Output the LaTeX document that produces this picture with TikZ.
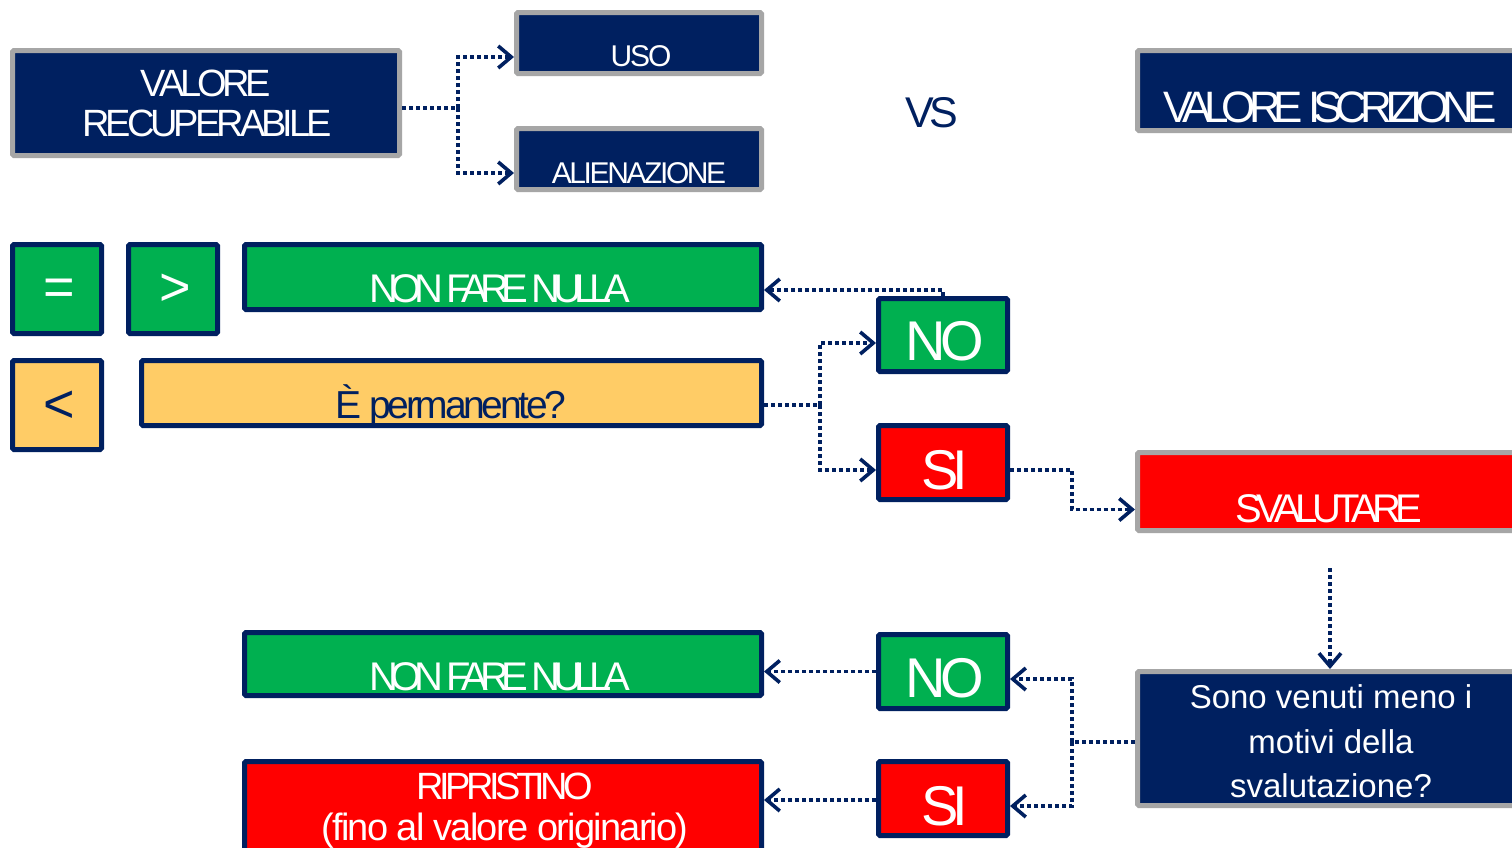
\documentclass[tikz,border=0pt]{standalone}
\usepackage{fontspec}
\setmainfont{Liberation Sans}
\usetikzlibrary{arrows.meta}
\definecolor{navy}{HTML}{002060}
\definecolor{grn}{HTML}{00B050}
\definecolor{redx}{HTML}{FF0000}
\definecolor{yel}{HTML}{FFCC66}
\definecolor{gry}{HTML}{A6A6A6}
\newcommand\txt[3]{\fontsize{#1}{#1}\selectfont\addfontfeature{LetterSpace=#2}#3}
\begin{document}
\begin{tikzpicture}[x=1pt,y=-1pt,
  box/.style={draw, line width=5pt, rounded corners=1.5pt, outer sep=2.5pt, inner sep=0pt},
  gb/.style={box, draw=gry},
  nb/.style={box, draw=navy},
  lbl/.style={inner sep=0pt, anchor=base, text=white},
  dots/.style={draw=navy, line width=3.6pt, dash pattern=on 4pt off 3pt},
  arr/.style={dots, -{Straight Barb[length=13pt,width=22pt]}},
]
\clip (0,0) rectangle (1512,847);
\fill[white] (0,0) rectangle (1512,847);
% boxes
\node[gb, fill=navy, minimum width=387pt, minimum height=105pt] (vr) at (206,103) {};
\node[gb, fill=navy, minimum width=245pt, minimum height=61pt] (uso) at (639,43) {};
\node[gb, fill=navy, minimum width=245pt, minimum height=61pt] (alien) at (639,159) {};
\node[gb, fill=navy, minimum width=400pt, minimum height=80pt] (vi) at (1337.5,90.5) {};
\node[nb, fill=grn, minimum width=89pt, minimum height=89pt] (eq) at (57,289) {};
\node[nb, fill=grn, minimum width=89pt, minimum height=89pt] (gt) at (173,289) {};
\node[nb, fill=grn, minimum width=517pt, minimum height=65pt] (nfn1) at (503,277) {};
\node[nb, fill=yel, minimum width=89pt, minimum height=89pt] (lt) at (57,405) {};
\node[nb, fill=yel, minimum width=620pt, minimum height=65pt] (perm) at (451.5,393) {};
\node[nb, fill=grn, minimum width=129pt, minimum height=73pt] (no1) at (943,335) {};
\node[nb, fill=redx, minimum width=129pt, minimum height=74pt] (si1) at (943,462.5) {};
\node[gb, fill=redx, minimum width=400pt, minimum height=78pt] (sval) at (1337.5,491.5) {};
\node[gb, fill=navy, minimum width=400pt, minimum height=134pt] (sono) at (1337.5,738.5) {};
\node[nb, fill=grn, minimum width=517pt, minimum height=63pt] (nfn2) at (503,664) {};
\node[nb, fill=grn, minimum width=129pt, minimum height=74pt] (no2) at (943,671.5) {};
\node[nb, fill=redx, minimum width=129pt, minimum height=74pt] (si2) at (943,798.5) {};
\node[nb, fill=redx, minimum width=517pt, minimum height=106pt] (rip) at (503,814.5) {};
% labels
\node[lbl] (tvr1) at (206,96) {\txt{38}{-11}{VALORE}};
\node[lbl] (tvr2) at (207,136) {\txt{38}{-10.5}{RECUPERABILE}};
\node[lbl] (tuso) at (641,66) {\txt{30}{-7}{USO}};
\node[lbl] (talien) at (639,183) {\txt{30}{-8}{ALIENAZIONE}};
\node[lbl, text=navy] (tvs) at (932,127) {\txt{43}{-10}{VS}};
\node[lbl] (tvi) at (1330,122) {\txt{44}{-16}{VALORE ISCRIZIONE}};
\node[lbl] (teq) at (59,305) {\txt{54}{0}{=}};
\node[lbl] (tgt) at (175,305) {\txt{54}{0}{>}};
\node[lbl, text=navy] (tlt) at (59,422) {\txt{54}{0}{<}};
\node[lbl] (tnfn1) at (500,302) {\txt{40}{-19}{NON FARE NULLA}};
\node[lbl, text=navy] (tperm) at (451,418) {\txt{39}{-8.5}{È permanente?}};
\node[lbl] (tno1) at (945,360) {\txt{56}{-10}{NO}};
\node[lbl] (tsi1) at (945,489) {\txt{56}{-11}{SI}};
\node[lbl] (tsval) at (1329,522) {\txt{40}{-14}{SVALUTARE}};
\node[lbl] (ts1) at (1331,708) {\txt{33}{0}{Sono venuti meno i}};
\node[lbl] (ts2) at (1331,753) {\txt{33}{0}{motivi della}};
\node[lbl] (ts3) at (1331,797) {\txt{33}{0}{svalutazione?}};
\node[lbl] (tnfn2) at (500,690) {\txt{40}{-19}{NON FARE NULLA}};
\node[lbl] (tno2) at (945,697) {\txt{56}{-10}{NO}};
\node[lbl] (tsi2) at (945,825) {\txt{56}{-11}{SI}};
\node[lbl] (trip1) at (505,799) {\txt{38}{-12}{RIPRISTINO}};
\node[lbl] (trip2) at (505,840) {\txt{38}{-4.6}{(fino al valore originario)}};
% connectors
\coordinate (j1) at (458,108);
\draw[dots] ([yshift=-5pt]vr.east) -- (j1);
\draw[arr] (j1) |- ([yshift=-14pt]uso.west);
\draw[arr] (j1) |- ([yshift=-14pt]alien.west);
\draw[arr] (no1.north) |- ([yshift=-13pt]nfn1.east);
\coordinate (j2) at (820,405);
\draw[dots] ([yshift=-12pt]perm.east) -- (j2);
\draw[arr] (j2) |- ([yshift=-8pt]no1.west);
\draw[arr] (j2) |- ([yshift=-7.5pt]si1.west);
\coordinate (j3) at (1072,470);
\draw[arr] ([yshift=-7.5pt]si1.east) -- (j3) |- ([yshift=-18pt]sval.west);
\draw[arr, shorten <=35pt] ([xshift=-7.5pt]sval.south) -- ([xshift=-7.5pt]sono.north);
\coordinate (j4) at (1072,742);
\draw[dots] ([yshift=-3.5pt]sono.west) -- (j4);
\draw[arr] (j4) |- ([yshift=-7.5pt]no2.east);
\draw[arr] (j4) |- ([yshift=-7.5pt]si2.east);
\draw[arr] (no2.west) -- (no2.west -| nfn2.east);
\draw[arr] ([yshift=-1.5pt]si2.west) -- ([yshift=-1.5pt]si2.west -| rip.east);
\end{tikzpicture}
\end{document}
